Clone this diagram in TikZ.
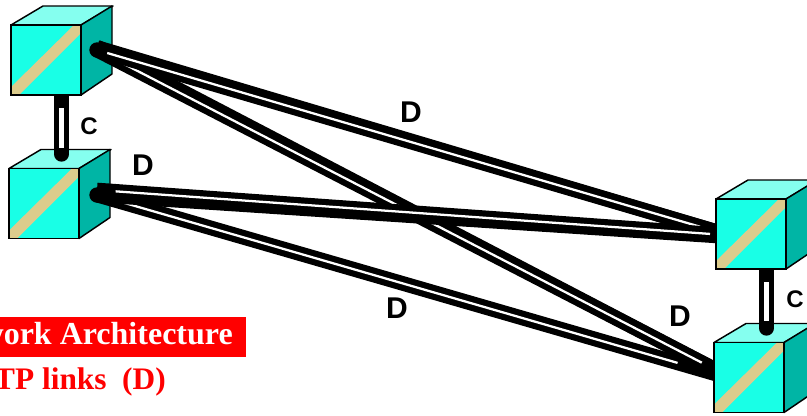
\documentclass[tikz,border=0pt]{standalone}
\usepackage{fontspec}
\setmainfont{Liberation Serif}
\setsansfont{Liberation Sans}
\usetikzlibrary{calc,backgrounds}
\definecolor{facecol}{HTML}{19FFE6}
\definecolor{topcol}{HTML}{85FFEF}
\definecolor{sidecol}{HTML}{00B5A5}
\definecolor{stripecol}{HTML}{DCCC8C}

\begin{document}
\begin{tikzpicture}[x=0.75pt,y=-0.75pt,
		cube node/.style={rectangle,fill=facecol,draw=black,line width=1.1pt,minimum size=52.5pt,inner sep=0pt,outer sep=0pt},
		port node/.style={circle,fill=black,minimum size=11.5pt,inner sep=0pt},
		cube edge/.style={draw=black,line width=1.1pt,line join=round},
		dlink/.style={black,line width=11pt},
		dcore/.style={white,line width=1.7pt},
		clink/.style={black,line width=11.5pt,line cap=round},
		ccore/.style={white,line width=3.75pt},
		letter node/.style={font=\sffamily\bfseries\fontsize{22.5}{24}\selectfont,inner sep=0pt},
		small letter/.style={font=\sffamily\bfseries\fontsize{18}{20}\selectfont,inner sep=0pt}]
		
		\clip (0,0) rectangle (807,415);
		
		% cubes
		\node[cube node] (a) at (46,60) {};
		\node[cube node] (b) at (44,203.5) {};
		\node[cube node] (c) at (751,234) {};
		\node[cube node] (d) at (749,377.5) {};
		
		% link ends
		\node[port node] (a port) at (97,50) {};
		\node[port node] (b port) at (97,195) {};
		\coordinate (a high) at (97,47.5);
		\coordinate (a higher) at (97,47);
		\coordinate (b out) at (97,190);
		\coordinate (c upper) at (718,232);
		\coordinate (c lower) at (718,234.5);
		\coordinate (c foot) at (718,236);
		\coordinate (d upper) at (716,370);
		\coordinate (d lower) at (716,374);
		\coordinate (b top) at (61.5,154);
		\coordinate (d top) at (766.5,328);
		
		\begin{pgfonlayer}{background}
			\foreach \n in {a,b,c,d}{
				\filldraw[cube edge,fill=topcol] (\n.north west) -- ++(32,-19) -- ++(70,0) -- (\n.north east) -- cycle;
				\filldraw[cube edge,fill=sidecol] (\n.north east) -- ++(31,-19) -- ++(0,68) -- (\n.south east) -- cycle;
			}
			
			\draw[clink] (a.south) ++(15.5,0) -- (b top);
			\draw[ccore] (61.5,108) -- (61.5,148);
			\draw[clink] (c.south) ++(15.5,0) -- (d top);
			\draw[ccore] (766.5,282) -- (766.5,321);
			
			% the four long links
			\draw[dlink] (b port.center) -- (d lower);
			\draw[dcore,shorten <=14pt,shorten >=30pt] (b port.center) -- (d lower);
			\draw[dlink] (a higher) -- (d upper);
			\draw[dlink] (a port.center) -- (d upper);
			\draw[dcore,shorten <=14pt,shorten >=12pt] (a port.center) -- (d upper);
			\draw[dlink] (a high) -- (c upper);
			\draw[dlink] (a port.center) -- (c upper);
			\draw[dcore,shorten <=8pt,shorten >=14pt] (a port.center) -- (c upper);
			\draw[dlink] (b port.center) -- (c foot);
			\draw[dlink] (b out) -- (c lower);
			\draw[dcore,shorten <=14pt,shorten >=6pt] (b out) -- (c lower);
		\end{pgfonlayer}
		
		\foreach \n in {a,b,c,d}{
			\fill[stripecol] (\n.south west) -- ($(\n.south west)+(0,-8)$) -- ($(\n.north east)+(-7,0)$) -- (\n.north east) -- ($(\n.north east)+(0,8)$) -- ($(\n.south west)+(8,0)$) -- cycle;
			\draw[cube edge] (\n.south west) rectangle (\n.north east);
		}
		
		\node[small letter] (c left) at (89,126) {C};
		\node[small letter] (c right) at (795,299) {C};
		\node[letter node] (d one) at (143,165) {D};
		\node[letter node] (d two) at (411,112) {D};
		\node[letter node] (d three) at (397,308) {D};
		\node[letter node] (d four) at (680,316) {D};
		
		\node[fill=red,text=white,anchor=east,minimum height=30pt,inner sep=0pt,inner xsep=9.75pt,text height=16pt,text depth=5pt,
			font=\rmfamily\bfseries\fontsize{24}{26}\selectfont] (title) at (246,337) {work Architecture};
		\node[text=red,anchor=base east,inner sep=0pt,
			font=\rmfamily\bfseries\fontsize{23.5}{26}\selectfont] (sub) at (166,389) {TP links\ \ (D)};
\end{tikzpicture}
\end{document}
